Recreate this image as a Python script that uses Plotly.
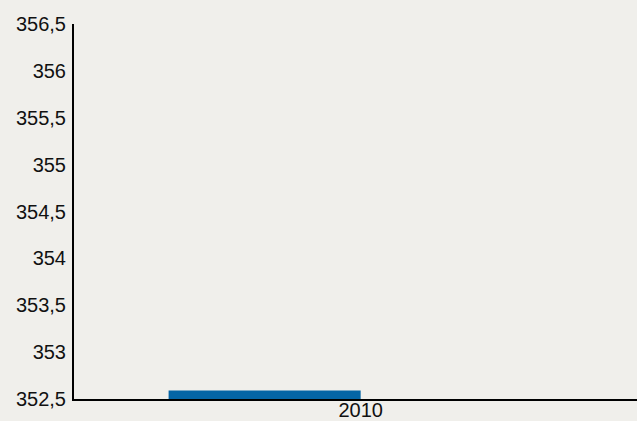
import plotly.graph_objects as go

# Data
years = ["2010"]
values = [352.59]

# Axis settings
y_min, y_max, y_step = 352.5, 356.5, 0.5

bg = "#f0efeb"
bar_color = "#0565a6"

fig = go.Figure()
fig.add_trace(go.Bar(
    x=years,
    y=values,
    width=0.335,
    offset=-0.335,
    marker=dict(color=bar_color, line=dict(width=0)),
    hoverinfo="x+y",
))

fig.update_layout(
    width=637,
    height=421,
    margin=dict(l=74, r=0, t=24, b=22),
    paper_bgcolor=bg,
    plot_bgcolor=bg,
    separators=", ",
    showlegend=False,
    font=dict(family="Liberation Sans, Arial, sans-serif", size=20, color="#111111"),
    xaxis=dict(
        type="category",
        range=[-0.5, 0.482],
        automargin=False,
        showgrid=False,
        showline=True,
        linecolor="#000000",
        linewidth=2,
        ticks="",
        ticklabelstandoff=-8,
        zeroline=False,
    ),
    yaxis=dict(
        range=[y_min, y_max],
        dtick=y_step,
        tick0=y_min,
        automargin=False,
        showgrid=False,
        showline=True,
        linecolor="#000000",
        linewidth=2,
        ticks="",
        ticklabelstandoff=2,
        zeroline=False,
    ),
)

fig.write_html("out.html")
